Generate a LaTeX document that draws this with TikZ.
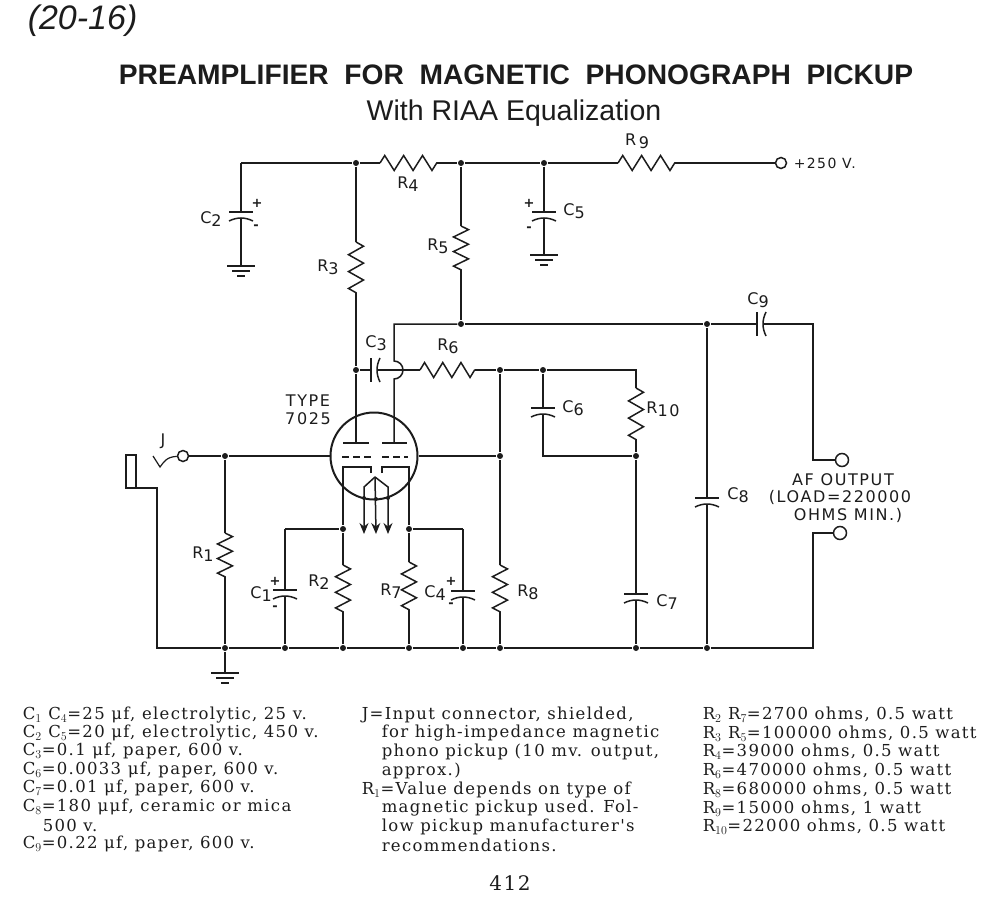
\documentclass[tikz,border=0pt]{standalone}
\usepackage{fontspec}
\setsansfont{Liberation Sans}
\newfontfamily\lblfont[LetterSpace=10]{DejaVu Sans}
\newfontfamily\legfont[LetterSpace=8]{DejaVu Serif}
\usetikzlibrary{arrows.meta}
\usetikzlibrary{decorations.pathmorphing}
\definecolor{ink}{HTML}{1C1C1C}
\newcommand{\lbl}[2]{#1\raisebox{-3pt}{#2}}
\tikzset{
  capv/.pic={
    \coordinate (-a) at (0,0);
    \coordinate (-b) at (0,6);
    \draw (-12,0) -- (12,0);
    \draw (-12,9) .. controls (-4,5) and (4,5) .. (12,9);
  },
  caph/.pic={
    \coordinate (-a) at (0,0);
    \coordinate (-b) at (6,0);
    \draw (0,-12) -- (0,12);
    \draw (9,-12) .. controls (5,-4) and (5,4) .. (9,12);
  },
  gnd/.pic={
    \coordinate (-a) at (0,0);
    \draw (-14,0) -- (14,0);
    \draw (-9,5) -- (9,5);
    \draw (-4,10) -- (4,10);
  },
  res/.style={decorate, decoration={zigzag, amplitude=7.5pt, segment length=#1}},
  txt/.style={draw=none, fill=none, inner sep=0pt, text=ink, font=\lblfont\fontsize{16}{18}\selectfont},
  sgn/.style={txt, font=\lblfont\bfseries\fontsize{13}{15}\selectfont},
  leg/.style={draw=none, fill=none, inner sep=0pt, anchor=west, text=ink, font=\legfont\fontsize{16.5}{18}\selectfont},
  jn/.style={circle, fill=ink, draw=none, minimum size=6pt, inner sep=0pt},
  term/.style={circle, draw=ink, fill=white, minimum size=11pt, inner sep=0pt},
}
\begin{document}
\begin{tikzpicture}[x=1pt, y=-1pt, draw=ink, line width=1.5pt]
  \useasboundingbox (0,0) rectangle (1000,917);

  % Headings
  \node (head)[txt, anchor=west, font=\sffamily\itshape\fontsize{34}{36}\selectfont] at (27,21) {(20-16)};
  \node (title)[txt, font=\sffamily\bfseries\fontsize{28.2}{30}\selectfont] at (516,75) {PREAMPLIFIER\ \ FOR\ \ MAGNETIC\ \ PHONOGRAPH\ \ PICKUP};
  \node (sub)[txt, font=\sffamily\fontsize{28.5}{30}\selectfont] at (514,113) {With RIAA Equalization};

  % Junctions
  \node (n1)[jn] at (356,163) {};
  \node (n2)[jn] at (461,163) {};
  \node (n3)[jn] at (544,163) {};
  \node (n4)[jn] at (461,324) {};
  \node (n5)[jn] at (707,324) {};
  \node (n6)[jn] at (356,370) {};
  \node (n7)[jn] at (500,370) {};
  \node (n8)[jn] at (543,370) {};
  \node (n9)[jn] at (225,456) {};
  \node (n10)[jn] at (500,456) {};
  \node (n11)[jn] at (636,456) {};
  \node (n12)[jn] at (343,529) {};
  \node (n13)[jn] at (409,529) {};
  \node (b1)[jn] at (225,648) {};
  \node (b2)[jn] at (285,648) {};
  \node (b3)[jn] at (343,648) {};
  \node (b4)[jn] at (409,648) {};
  \node (b5)[jn] at (463,648) {};
  \node (b6)[jn] at (500,648) {};
  \node (b7)[jn] at (636,648) {};
  \node (b8)[jn] at (707,648) {};
  \node (f1)[jn, minimum size=4pt] at (364,498) {};
  \node (f2)[jn, minimum size=4pt] at (376,499) {};
  \node (f3)[jn, minimum size=4pt] at (388,498) {};

  % Corners and resistor ends
  \coordinate (c1) at (241,163);
  \coordinate (c2) at (394,324);
  \coordinate (c3) at (813,324);
  \coordinate (c4) at (813,460);
  \coordinate (c5) at (813,533);
  \coordinate (c6) at (813,648);
  \coordinate (c7) at (636,370);
  \coordinate (c8) at (543,456);
  \coordinate (c9) at (285,529);
  \coordinate (c10) at (463,529);
  \coordinate (c11) at (157,488);
  \coordinate (c12) at (157,648);
  \coordinate (h1) at (394,361);
  \coordinate (r1a) at (225,533);  \coordinate (r1b) at (225,577);
  \coordinate (r2a) at (343,565);  \coordinate (r2b) at (343,612);
  \coordinate (r3a) at (356,242);  \coordinate (r3b) at (356,293);
  \coordinate (r4a) at (380,163);  \coordinate (r4b) at (437,163);
  \coordinate (r5a) at (461,226);  \coordinate (r5b) at (461,270);
  \coordinate (r6a) at (420,370);  \coordinate (r6b) at (475,370);
  \coordinate (r7a) at (409,562);  \coordinate (r7b) at (409,610);
  \coordinate (r8a) at (500,565);  \coordinate (r8b) at (500,612);
  \coordinate (r9a) at (618,163);  \coordinate (r9b) at (675,163);
  \coordinate (r10a) at (636,388); \coordinate (r10b) at (636,440);

  % Capacitors and grounds
  \pic (C1) at (285,590) {capv};
  \pic (C2) at (241,212) {capv};
  \pic (C3) at (371,370) {caph};
  \pic (C4) at (463,591) {capv};
  \pic (C5) at (544,212) {capv};
  \pic (C6) at (543,408) {capv};
  \pic (C7) at (636,594) {capv};
  \pic (C8) at (707,498) {capv};
  \pic (C9) at (757,324) {caph};
  \pic (G1) at (241,266) {gnd};
  \pic (G2) at (544,255) {gnd};
  \pic (G3) at (225,673) {gnd};

  % Terminals and tube
  \node (J)[term] at (183,456) {};
  \node (P)[term] at (781,163) {};
  \node (O1)[term, minimum size=13pt] at (842,460) {};
  \node (O2)[term, minimum size=13pt] at (840,533) {};
  \node (V1)[circle, draw=ink, fill=none, line width=2pt, minimum size=87pt, inner sep=0pt] at (374,456) {};

  % Supply line
  \draw (c1) -- (n1) -- (r4a);
  \draw[res=18.9pt] (r4a) -- (r4b);
  \draw (r4b) -- (n2) -- (n3) -- (r9a);
  \draw[res=18.9pt] (r9a) -- (r9b);
  \draw (r9b) -- (P);
  \draw (c1) -- (C2-a);
  \draw (C2-b) -- (G1-a);
  \draw (n3) -- (C5-a);
  \draw (C5-b) -- (G2-a);

  % Plate loads
  \draw (n1) -- (r3a);
  \draw[res=16.9pt] (r3a) -- (r3b);
  \draw (r3b) -- (n6) -- (356,443);
  \draw (n2) -- (r5a);
  \draw[res=14.6pt] (r5a) -- (r5b);
  \draw (r5b) -- (n4);
  \draw (n4) -- (c2) -- (h1) arc[start angle=90, end angle=-90, radius=9pt] -- (394,443);

  % Coupling and feedback
  \draw (n6) -- (C3-a);
  \draw (C3-b) -- (r6a);
  \draw[res=18.2pt] (r6a) -- (r6b);
  \draw (r6b) -- (n7) -- (n8) -- (c7) -- (r10a);
  \draw[res=17.2pt] (r10a) -- (r10b);
  \draw (r10b) -- (n11) -- (C7-a);
  \draw (C7-b) -- (b7);
  \draw (n8) -- (C6-a);
  \draw (C6-b) -- (c8) -- (n11);
  \draw (n7) -- (n10) -- (r8a);
  \draw[res=15.6pt] (r8a) -- (r8b);
  \draw (r8b) -- (b6);
  \draw (V1.east) -- (n10);

  % Output
  \draw (n4) -- (n5) -- (C9-a);
  \draw (C9-b) -- (c3) -- (c4) -- (O1);
  \draw (O2) -- (c5) -- (c6) -- (b8);
  \draw (n5) -- (C8-a);
  \draw (C8-b) -- (b8);

  % Input
  \draw (J) -- (n9) -- (V1.west);
  \draw (n9) -- (r1a);
  \draw[res=14.6pt] (r1a) -- (r1b);
  \draw (r1b) -- (b1);
  \draw (b1) -- (G3-a);
  \draw (126,455) rectangle (136,488);
  \draw (136,488) -- (c11) -- (c12) -- (b1) -- (b2) -- (b3) -- (b4) -- (b5) -- (b6) -- (b7) -- (b8);
  \draw[line width=1.2pt] (153,456) -- (160,467) .. controls (164,462) and (166,457) .. (J);

  % Inside the tube
  \draw (343,443) -- (369,443);
  \draw (382,443) -- (407,443);
  \draw[dashed, dash pattern=on 7pt off 4pt] (342,457) -- (371,457);
  \draw[dashed, dash pattern=on 7pt off 4pt] (382,457) -- (408,457);
  \draw (371,473) -- (371,467) -- (343,467) -- (n12);
  \draw (382,473) -- (382,467) -- (409,467) -- (n13);
  \draw (c9) -- (n12);
  \draw (n13) -- (c10);
  \draw[-{Stealth[length=11pt, width=9pt]}] (375,477) -- (364,487) -- (364,534);
  \draw[-{Stealth[length=11pt, width=9pt]}] (375,477) -- (376,534);
  \draw[-{Stealth[length=11pt, width=9pt]}] (375,477) -- (388,487) -- (388,534);

  % Cathode circuits
  \draw (c9) -- (C1-a);
  \draw (C1-b) -- (b2);
  \draw (n12) -- (r2a);
  \draw[res=15.6pt] (r2a) -- (r2b);
  \draw (r2b) -- (b3);
  \draw (n13) -- (r7a);
  \draw[res=15.9pt] (r7a) -- (r7b);
  \draw (r7b) -- (b4);
  \draw (c10) -- (C4-a);
  \draw (C4-b) -- (b5);

  % Part labels
  \node (lJ)[txt] at (163,441) {J};
  \node (lR1)[txt] at (203,554) {\lbl{R}{1}};
  \node (lR2)[txt] at (319,582) {\lbl{R}{2}};
  \node (lR3)[txt] at (328,267) {\lbl{R}{3}};
  \node (lR4)[txt] at (408,184) {\lbl{R}{4}};
  \node (lR5)[txt] at (438,246) {\lbl{R}{5}};
  \node (lR6)[txt] at (448,346) {\lbl{R}{6}};
  \node (lR7)[txt] at (391,591) {\lbl{R}{7}};
  \node (lR8)[txt] at (528,592) {\lbl{R}{8}};
  \node (lR9)[txt] at (637,141) {\lbl{R}{\,9}};
  \node (lR10)[txt] at (663,409) {\lbl{R}{10}};
  \node (lC1)[txt] at (261,594) {\lbl{C}{1}};
  \node (lC2)[txt] at (211,219) {\lbl{C}{2}};
  \node (lC3)[txt] at (376,343) {\lbl{C}{3}};
  \node (lC4)[txt] at (435,593) {\lbl{C}{4}};
  \node (lC5)[txt] at (574,211) {\lbl{C}{5}};
  \node (lC6)[txt] at (573,408) {\lbl{C}{6}};
  \node (lC7)[txt] at (667,602) {\lbl{C}{7}};
  \node (lC8)[txt] at (738,495) {\lbl{C}{8}};
  \node (lC9)[txt] at (758,300) {\lbl{C}{9}};
  \node (p2)[sgn] at (257,203) {+};
  \node (m2)[sgn] at (256,227) {-};
  \node (p5)[sgn] at (529,203) {+};
  \node (m5)[sgn] at (529,229) {-};
  \node (p1)[sgn] at (275,581) {+};
  \node (m1)[sgn] at (275,608) {-};
  \node (p4)[sgn] at (451,581) {+};
  \node (m4)[sgn] at (451,605) {-};
  \node (lB)[txt, anchor=west, font=\lblfont\fontsize{14}{16}\selectfont] at (793,163) {+250 V.};
  \node (lT1)[txt] at (308,401) {TYPE};
  \node (lT2)[txt] at (308,419) {7025};
  \node (lA1)[txt] at (843,480) {AF OUTPUT};
  \node (lA2)[txt] at (840,497) {(LOAD=220000};
  \node (lA3)[txt] at (848,515) {OHMS MIN.)};

  % Parts list, left
  \node (a1)[leg] at (22,715) {C$_1$ C$_4$=25 μf, electrolytic, 25 v.};
  \node (a2)[leg] at (22,733) {C$_2$ C$_5$=20 μf, electrolytic, 450 v.};
  \node (a3)[leg] at (22,751) {C$_3$=0.1 μf, paper, 600 v.};
  \node (a4)[leg] at (22,770) {C$_6$=0.0033 μf, paper, 600 v.};
  \node (a5)[leg] at (22,788) {C$_7$=0.01 μf, paper, 600 v.};
  \node (a6)[leg] at (22,807) {C$_8$=180 μμf, ceramic or mica};
  \node (a7)[leg] at (42,825) {500 v.};
  \node (a8)[leg] at (22,844) {C$_9$=0.22 μf, paper, 600 v.};

  % Parts list, middle
  \node (b11)[leg] at (361,715) {J=Input connector, shielded,};
  \node (b12)[leg] at (381,733) {for high-impedance magnetic};
  \node (b13)[leg] at (381,752) {phono pickup (10 mv. output,};
  \node (b14)[leg] at (381,771) {approx.)};
  \node (b15)[leg] at (361,790) {R$_1$=Value depends on type of};
  \node (b16)[leg] at (381,808) {magnetic pickup used. Fol-};
  \node (b17)[leg] at (381,827) {low pickup manufacturer's};
  \node (b18)[leg] at (381,845) {recommendations.};

  % Parts list, right
  \node (d1)[leg] at (702,715) {R$_2$ R$_7$=2700 ohms, 0.5 watt};
  \node (d2)[leg] at (702,734) {R$_3$ R$_5$=100000 ohms, 0.5 watt};
  \node (d3)[leg] at (702,752) {R$_4$=39000 ohms, 0.5 watt};
  \node (d4)[leg] at (702,771) {R$_6$=470000 ohms, 0.5 watt};
  \node (d5)[leg] at (702,790) {R$_8$=680000 ohms, 0.5 watt};
  \node (d6)[leg] at (702,809) {R$_9$=15000 ohms, 1 watt};
  \node (d7)[leg] at (702,827) {R$_{10}$=22000 ohms, 0.5 watt};

  \node (page)[txt, font=\legfont\fontsize{20}{24}\selectfont] at (510,883) {412};
\end{tikzpicture}
\end{document}
